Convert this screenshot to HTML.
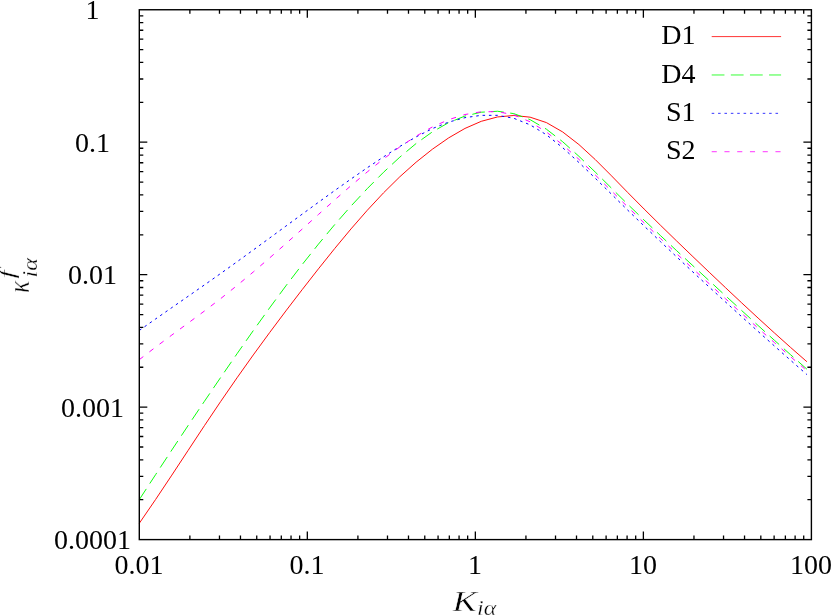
<!DOCTYPE html>
<html><head><meta charset="utf-8"><title>plot</title>
<style>html,body{margin:0;padding:0;background:#fff}svg{display:block;will-change:transform}text{font-family:"Liberation Serif",serif;fill:#000}</style></head>
<body>
<svg width="831" height="615" viewBox="0 0 831 615">
<rect width="831" height="615" fill="#fff"/>
<path d="M139.3 523.29 L155.58 499.51 L171.87 475.08 L188.15 450.35 L204.43 425.67 L220.72 401.41 L237 377.84 L253.28 354.94 L269.57 332.67 L285.85 310.94 L302.13 289.69 L318.42 268.86 L334.7 248.54 L350.98 228.94 L367.27 210.29 L383.55 192.82 L399.83 176.74 L416.12 162.19 L432.4 149.21 L448.68 137.87 L464.97 128.43 L481.25 121.32 L497.53 116.95 L513.82 115.48 L530.1 117.18 L546.38 122.57 L562.67 131.95 L578.95 144.57 L595.23 159.52 L611.52 175.85 L627.8 192.57 L644.08 209.01 L660.37 225.13 L676.65 240.99 L692.93 256.67 L709.22 272.22 L725.5 287.66 L741.78 302.95 L758.07 318.04 L774.35 332.89 L790.63 347.48 L806.92 361.74" fill="none" stroke="#ff0000" stroke-width="0.95"/>
<path d="M139.3 499.61 L155.58 474.66 L171.87 449.95 L188.15 425.48 L204.43 401.29 L220.72 377.37 L237 353.78 L253.28 330.61 L269.57 307.95 L285.85 285.92 L302.13 264.62 L318.42 244.16 L334.7 224.62 L350.98 206.08 L367.27 188.61 L383.55 172.26 L399.83 157.13 L416.12 143.51 L432.4 131.85 L448.68 122.62 L464.97 116.05 L481.25 112.21 L497.53 111.26 L513.82 113.63 L530.1 119.66 L546.38 129.17 L562.67 141.72 L578.95 156.34 L595.23 172.03 L611.52 188.19 L627.8 204.32 L644.08 220.07 L660.37 235.49 L676.65 250.68 L692.93 265.73 L709.22 280.73 L725.5 295.71 L741.78 310.64 L758.07 325.48 L774.35 340.21 L790.63 354.77 L806.92 369.15" fill="none" stroke="#00ff00" stroke-width="0.95" stroke-dasharray="12.75 6.38"/>
<path d="M139.3 330.45 L155.58 318.96 L171.87 307.6 L188.15 296.28 L204.43 284.93 L220.72 273.45 L237 261.79 L253.28 249.99 L269.57 238.09 L285.85 226.14 L302.13 214.2 L318.42 202.31 L334.7 190.55 L350.98 179.01 L367.27 167.75 L383.55 156.87 L399.83 146.47 L416.12 136.87 L432.4 128.58 L448.68 122.09 L464.97 117.66 L481.25 115.34 L497.53 115.33 L513.82 118.3 L530.1 124.82 L546.38 134.75 L562.67 147.68 L578.95 162.52 L595.23 178.19 L611.52 194.2 L627.8 210.21 L644.08 225.98 L660.37 241.52 L676.65 256.86 L692.93 272.03 L709.22 287.06 L725.5 301.97 L741.78 316.75 L758.07 331.41 L774.35 345.93 L790.63 360.33 L806.92 374.59" fill="none" stroke="#0000ff" stroke-width="1.0" stroke-dasharray="2.55 3.83"/>
<path d="M139.3 359.66 L155.58 347.12 L171.87 335.02 L188.15 323.07 L204.43 311.02 L220.72 298.57 L237 285.54 L253.28 271.98 L269.57 257.99 L285.85 243.67 L302.13 229.15 L318.42 214.52 L334.7 199.95 L350.98 185.68 L367.27 171.92 L383.55 158.92 L399.83 146.89 L416.12 136.13 L432.4 126.94 L448.68 119.65 L464.97 114.52 L481.25 111.75 L497.53 111.65 L513.82 114.87 L530.1 121.81 L546.38 132.01 L562.67 144.8 L578.95 159.38 L595.23 174.95 L611.52 190.98 L627.8 207.05 L644.08 222.85 L660.37 238.37 L676.65 253.67 L692.93 268.8 L709.22 283.81 L725.5 298.72 L741.78 313.49 L758.07 328.11 L774.35 342.53 L790.63 356.75 L806.92 370.73" fill="none" stroke="#ff00ff" stroke-width="1.0" stroke-dasharray="5.1 7.65"/>
<path d="M189.88 539.6 v-4 M189.88 9.75 v4 M219.47 539.6 v-4 M219.47 9.75 v4 M240.46 539.6 v-4 M240.46 9.75 v4 M256.74 539.6 v-4 M256.74 9.75 v4 M270.05 539.6 v-4 M270.05 9.75 v4 M281.3 539.6 v-4 M281.3 9.75 v4 M291.04 539.6 v-4 M291.04 9.75 v4 M299.64 539.6 v-4 M299.64 9.75 v4 M307.32 539.6 v-8 M307.32 9.75 v8 M357.91 539.6 v-4 M357.91 9.75 v4 M387.49 539.6 v-4 M387.49 9.75 v4 M408.49 539.6 v-4 M408.49 9.75 v4 M424.77 539.6 v-4 M424.77 9.75 v4 M438.07 539.6 v-4 M438.07 9.75 v4 M449.32 539.6 v-4 M449.32 9.75 v4 M459.07 539.6 v-4 M459.07 9.75 v4 M467.66 539.6 v-4 M467.66 9.75 v4 M475.35 539.6 v-8 M475.35 9.75 v8 M525.93 539.6 v-4 M525.93 9.75 v4 M555.52 539.6 v-4 M555.52 9.75 v4 M576.51 539.6 v-4 M576.51 9.75 v4 M592.79 539.6 v-4 M592.79 9.75 v4 M606.1 539.6 v-4 M606.1 9.75 v4 M617.35 539.6 v-4 M617.35 9.75 v4 M627.09 539.6 v-4 M627.09 9.75 v4 M635.69 539.6 v-4 M635.69 9.75 v4 M643.38 539.6 v-8 M643.38 9.75 v8 M693.96 539.6 v-4 M693.96 9.75 v4 M723.54 539.6 v-4 M723.54 9.75 v4 M744.54 539.6 v-4 M744.54 9.75 v4 M760.82 539.6 v-4 M760.82 9.75 v4 M774.12 539.6 v-4 M774.12 9.75 v4 M785.37 539.6 v-4 M785.37 9.75 v4 M795.12 539.6 v-4 M795.12 9.75 v4 M803.71 539.6 v-4 M803.71 9.75 v4 M139.3 499.72 h4 M811.4 499.72 h-4 M139.3 476.4 h4 M811.4 476.4 h-4 M139.3 459.85 h4 M811.4 459.85 h-4 M139.3 447.01 h4 M811.4 447.01 h-4 M139.3 436.52 h4 M811.4 436.52 h-4 M139.3 427.66 h4 M811.4 427.66 h-4 M139.3 419.97 h4 M811.4 419.97 h-4 M139.3 413.2 h4 M811.4 413.2 h-4 M139.3 407.14 h8 M811.4 407.14 h-8 M139.3 367.26 h4 M811.4 367.26 h-4 M139.3 343.94 h4 M811.4 343.94 h-4 M139.3 327.39 h4 M811.4 327.39 h-4 M139.3 314.55 h4 M811.4 314.55 h-4 M139.3 304.06 h4 M811.4 304.06 h-4 M139.3 295.19 h4 M811.4 295.19 h-4 M139.3 287.51 h4 M811.4 287.51 h-4 M139.3 280.74 h4 M811.4 280.74 h-4 M139.3 274.68 h8 M811.4 274.68 h-8 M139.3 234.8 h4 M811.4 234.8 h-4 M139.3 211.47 h4 M811.4 211.47 h-4 M139.3 194.92 h4 M811.4 194.92 h-4 M139.3 182.09 h4 M811.4 182.09 h-4 M139.3 171.6 h4 M811.4 171.6 h-4 M139.3 162.73 h4 M811.4 162.73 h-4 M139.3 155.05 h4 M811.4 155.05 h-4 M139.3 148.27 h4 M811.4 148.27 h-4 M139.3 142.21 h8 M811.4 142.21 h-8 M139.3 102.34 h4 M811.4 102.34 h-4 M139.3 79.01 h4 M811.4 79.01 h-4 M139.3 62.46 h4 M811.4 62.46 h-4 M139.3 49.63 h4 M811.4 49.63 h-4 M139.3 39.14 h4 M811.4 39.14 h-4 M139.3 30.27 h4 M811.4 30.27 h-4 M139.3 22.59 h4 M811.4 22.59 h-4 M139.3 15.81 h4 M811.4 15.81 h-4" fill="none" stroke="#000" stroke-width="1.3"/>
<rect x="139.3" y="9.75" width="672.1" height="529.85" fill="none" stroke="#000" stroke-width="1.4"/>
<text x="92.4" y="19.25" font-size="28" text-anchor="middle">1</text>
<text x="92.4" y="151.71" font-size="28" text-anchor="middle">0.1</text>
<text x="92.4" y="284.18" font-size="28" text-anchor="middle">0.01</text>
<text x="92.4" y="416.64" font-size="28" text-anchor="middle">0.001</text>
<text x="92.4" y="549.1" font-size="28" text-anchor="middle">0.0001</text>
<text x="138.9" y="574" font-size="28" text-anchor="middle">0.01</text>
<text x="306.93" y="574" font-size="28" text-anchor="middle">0.1</text>
<text x="474.95" y="574" font-size="28" text-anchor="middle">1</text>
<text x="642.98" y="574" font-size="28" text-anchor="middle">10</text>
<text x="811" y="574" font-size="28" text-anchor="middle">100</text>
<text x="695.5" y="44.2" font-size="28" text-anchor="end">D1</text>
<path d="M711.7 36.6 H781.1" fill="none" stroke="#ff0000" stroke-width="0.8"/>
<text x="695.5" y="82.57" font-size="28" text-anchor="end">D4</text>
<path d="M711.7 74.97 H781.1" fill="none" stroke="#00ff00" stroke-width="0.8" stroke-dasharray="12.75 6.38"/>
<text x="695.5" y="120.94" font-size="28" text-anchor="end">S1</text>
<path d="M711.7 113.34 H781.1" fill="none" stroke="#0000ff" stroke-width="0.8" stroke-dasharray="2.55 3.83"/>
<text x="695.5" y="159.31" font-size="28" text-anchor="end">S2</text>
<path d="M711.7 151.71 H781.1" fill="none" stroke="#ff00ff" stroke-width="0.8" stroke-dasharray="5.1 7.65"/>
<text x="452.4" y="610.8" font-size="29" font-style="italic" textLength="24.4" lengthAdjust="spacingAndGlyphs" stroke="#fff" stroke-width="0.45">K</text>
<text x="477" y="614.9" font-size="20" font-style="italic" textLength="19.4" lengthAdjust="spacingAndGlyphs" stroke="#fff" stroke-width="0.3">iα</text>
<g transform="translate(28.7 293) rotate(-90)">
<text x="0" y="0" font-size="29" font-style="italic" textLength="12.3" lengthAdjust="spacingAndGlyphs" stroke="#fff" stroke-width="0.45">κ</text>
<text x="14.6" y="-15" font-size="20" font-style="italic" textLength="8.5" lengthAdjust="spacingAndGlyphs" stroke="#fff" stroke-width="0.3">f</text>
<text x="15.5" y="8.6" font-size="20" font-style="italic" textLength="19.4" lengthAdjust="spacingAndGlyphs" stroke="#fff" stroke-width="0.3">iα</text>
</g>
</svg></body></html>
